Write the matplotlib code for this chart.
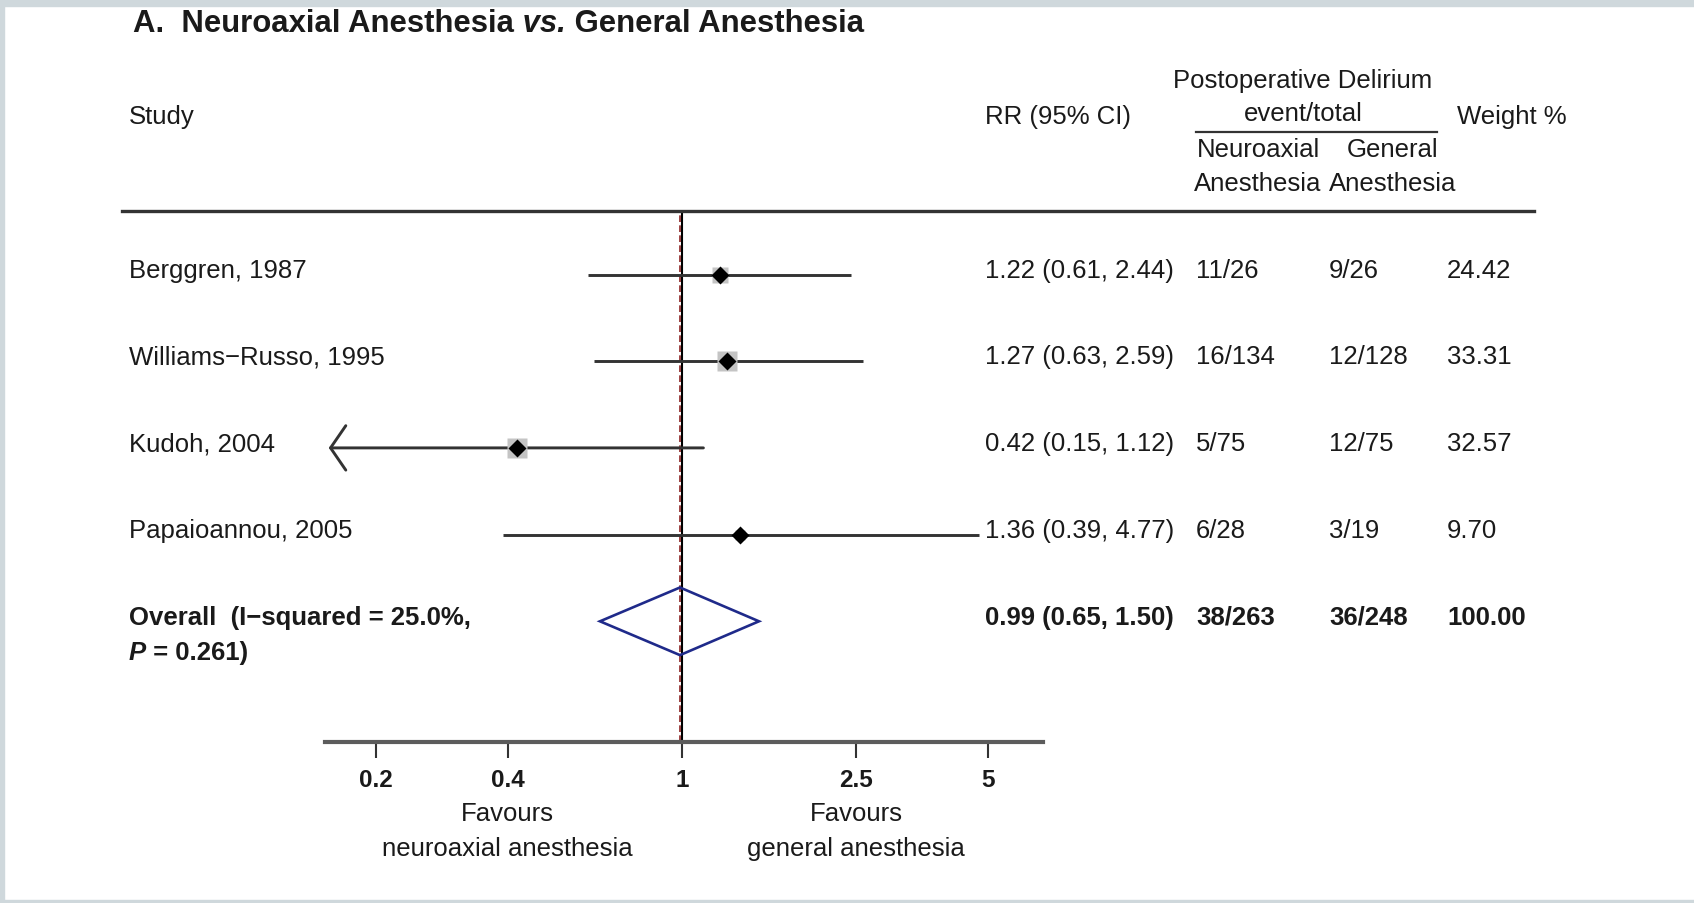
import numpy as np
import matplotlib
matplotlib.use("Agg")
import matplotlib.pyplot as plt
from matplotlib.lines import Line2D
from matplotlib.patches import Polygon, Rectangle
from matplotlib.transforms import blended_transform_factory

plt.rcParams['font.family'] = ['Liberation Sans', 'DejaVu Sans']

# study level data
studies = ['Berggren, 1987', 'Williams\u2212Russo, 1995', 'Kudoh, 2004', 'Papaioannou, 2005']
rr = [1.22, 1.27, 0.42, 1.36]
ci_lo = [0.61, 0.63, 0.15, 0.39]
ci_hi = [2.44, 2.59, 1.12, 4.77]
neuro = ['11/26', '16/134', '5/75', '6/28']
general = ['9/26', '12/128', '12/75', '3/19']
weights = [24.42, 33.31, 32.57, 9.70]

# pooled estimate
overall_rr = 0.99
overall_lo = 0.65
overall_hi = 1.50
overall_neuro = '38/263'
overall_general = '36/248'
overall_weight = 100.00

xticks = [0.2, 0.4, 1, 2.5, 5]
xlim = (0.153, 6.67)

W, H = 1694, 904
fig = plt.figure(figsize=(W / 100, H / 100), dpi=100)
fig.patch.set_facecolor('white')


def fx(px):
    return px / W


def fy(py):
    return 1 - py / H


# frame strips
frame = '#cfd8dc'
fig.patches.append(Rectangle((0, fy(7)), 1, 7 / H, transform=fig.transFigure, color=frame, zorder=0))
fig.patches.append(Rectangle((0, 0), 4 / W, 1, transform=fig.transFigure, color=frame, zorder=0))
fig.patches.append(Rectangle((0, 0), 1, 3 / H, transform=fig.transFigure, color=frame, zorder=0))

# forest axes: x is log RR, y is row index
ax_l, ax_r, ax_t, ax_b = 325, 1042.6, 212, 743
ax = fig.add_axes([fx(ax_l), fy(ax_b), (ax_r - ax_l) / W, (ax_b - ax_t) / H])
ax.set_facecolor('none')
ax.set_xscale('log')
ax.set_xlim(*xlim)
row0, row_h = 275.5, 86.7
ax.set_ylim((ax_b - row0) / row_h, (ax_t - row0) / row_h)
for s in ['top', 'left', 'right']:
    ax.spines[s].set_visible(False)
ax.spines['bottom'].set_linewidth(3.0)
ax.spines['bottom'].set_color('#5c5c5c')
ax.set_yticks([])
ax.set_xticks(xticks)
ax.set_xticklabels([f'{t:g}' for t in xticks], fontsize=17.5, fontweight='bold', color='#1a1a1a')
ax.xaxis.set_minor_locator(matplotlib.ticker.NullLocator())
ax.tick_params(axis='x', direction='out', length=11.5, width=1.5, color='#333333', pad=7)

# reference lines
ax.axvline(1, color='black', lw=1.5, zorder=2)
ax.axvline(overall_rr, color='#8b2323', lw=1.2, ls=(0, (4, 2)), zorder=2)

ci_col = '#333333'
rows = np.arange(len(studies))
for i, r in enumerate(rows):
    lo = max(ci_lo[i], xlim[0])
    if ci_lo[i] < xlim[0]:
        ax.annotate('', xy=(xlim[0] * 1.02, r), xytext=(ci_hi[i], r),
                    arrowprops=dict(arrowstyle='->,head_length=1.1,head_width=1.6',
                                    mutation_scale=10, shrinkA=0, shrinkB=0,
                                    lw=2.1, color=ci_col), zorder=3)
    else:
        ax.plot([lo, ci_hi[i]], [r, r], color=ci_col, lw=2.1, solid_capstyle='butt', zorder=3)
    # weight box behind the point estimate
    side = 3.4 * np.sqrt(weights[i]) / (100 / 72)
    ax.plot(rr[i], r, marker='s', ms=side, color='#c4c4c4', mec='none', zorder=4)
    ax.plot(rr[i], r, marker='D', ms=9.2, color='black', mec='none', zorder=5)

# pooled diamond
r_ov = len(studies)
h = 0.39
diamond = Polygon([(overall_lo, r_ov), (overall_rr, r_ov - h), (overall_hi, r_ov), (overall_rr, r_ov + h)],
                  closed=True, fill=False, ec='#1f2a8a', lw=1.9, zorder=5)
ax.add_patch(diamond)

# text columns
tc = '#1a1a1a'
fs = 18.5
tr = blended_transform_factory(fig.transFigure, ax.transData)
dy = -0.055
x_study, x_rr, x_neuro, x_gen, x_w = fx(128.6), fx(985), fx(1196), fx(1329), fx(1447)

for i, r in enumerate(rows):
    y = r + dy
    ax.text(x_study, y, studies[i], transform=tr, fontsize=fs, color=tc, va='center')
    ax.text(x_rr, y, f'{rr[i]:.2f} ({ci_lo[i]:.2f}, {ci_hi[i]:.2f})', transform=tr,
            fontsize=fs, color=tc, va='center')
    ax.text(x_neuro, y, neuro[i], transform=tr, fontsize=fs, color=tc, va='center')
    ax.text(x_gen, y, general[i], transform=tr, fontsize=fs, color=tc, va='center')
    ax.text(x_w, y, f'{weights[i]:.2f}', transform=tr, fontsize=fs, color=tc, va='center')

y = r_ov + dy
ax.text(x_study, y, 'Overall  (I\u2212squared = 25.0%,', transform=tr, fontsize=fs,
        color=tc, va='center', fontweight='bold')
p_lab = ax.text(x_study, (653.5 - row0) / row_h, 'P', transform=tr, fontsize=fs, color=tc,
                va='center', fontweight='bold', fontstyle='italic')
ax.annotate(' = 0.261)', xy=(1, 0), xycoords=p_lab, va='bottom', ha='left',
            fontsize=fs, color=tc, fontweight='bold')
ax.text(x_rr, y, f'{overall_rr:.2f} ({overall_lo:.2f}, {overall_hi:.2f})', transform=tr,
        fontsize=fs, color=tc, va='center', fontweight='bold')
ax.text(x_neuro, y, overall_neuro, transform=tr, fontsize=fs, color=tc, va='center', fontweight='bold')
ax.text(x_gen, y, overall_general, transform=tr, fontsize=fs, color=tc, va='center', fontweight='bold')
ax.text(x_w, y, f'{overall_weight:.2f}', transform=tr, fontsize=fs, color=tc, va='center', fontweight='bold')

# header block
t1 = fig.text(fx(133), fy(24), 'A.  Neuroaxial Anesthesia', fontsize=22.4, fontweight='bold',
              color=tc, va='center')
t2 = ax.annotate(' vs.', xy=(1, 0), xycoords=t1, va='bottom', ha='left', fontsize=22.4,
                 fontweight='bold', fontstyle='italic', color=tc)
ax.annotate(' General Anesthesia', xy=(1, 0), xycoords=t2, va='bottom', ha='left', fontsize=22.4,
            fontweight='bold', color=tc)

fig.text(fx(128.6), fy(117), 'Study', fontsize=fs, color=tc, va='center')
fig.text(fx(985), fy(117), 'RR (95% CI)', fontsize=fs, color=tc, va='center')
fig.text(fx(1303), fy(81), 'Postoperative Delirium', fontsize=fs, color=tc, va='center', ha='center')
fig.text(fx(1303), fy(114.5), 'event/total', fontsize=fs, color=tc, va='center', ha='center')
fig.add_artist(Line2D([fx(1196), fx(1437)], [fy(133), fy(133)], transform=fig.transFigure,
                      color='#333333', lw=1.6))
fig.text(fx(1258), fy(150), 'Neuroaxial', fontsize=fs, color=tc, va='center', ha='center')
fig.text(fx(1258), fy(184), 'Anesthesia', fontsize=fs, color=tc, va='center', ha='center')
fig.text(fx(1393), fy(150), 'General', fontsize=fs, color=tc, va='center', ha='center')
fig.text(fx(1393), fy(184), 'Anesthesia', fontsize=fs, color=tc, va='center', ha='center')
fig.text(fx(1457), fy(117), 'Weight %', fontsize=fs, color=tc, va='center')
fig.add_artist(Line2D([fx(122), fx(1534)], [fy(212), fy(212)], transform=fig.transFigure,
                      color='#333333', lw=2.4))

# direction labels under the axis
trx = blended_transform_factory(ax.transData, fig.transFigure)
for xv, who in [(0.4, 'neuroaxial anesthesia'), (2.5, 'general anesthesia')]:
    ax.text(xv, fy(814), 'Favours', transform=trx, fontsize=fs, color=tc, ha='center', va='center')
    ax.text(xv, fy(849), who, transform=trx, fontsize=fs, color=tc, ha='center', va='center')

fig.savefig('out.png', dpi=100, facecolor='white')
